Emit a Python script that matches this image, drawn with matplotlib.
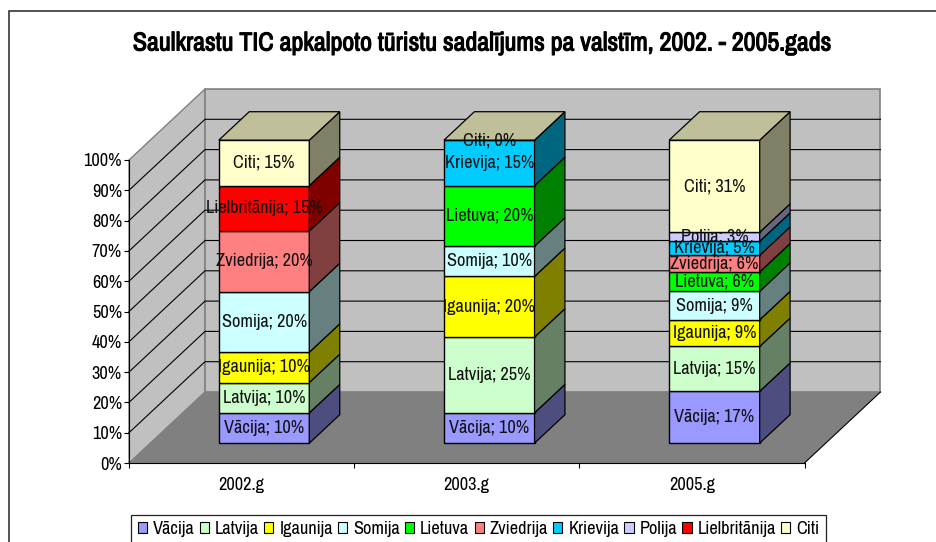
import matplotlib
matplotlib.use('Agg')
import matplotlib.font_manager as fm
import matplotlib.patheffects as pe
import matplotlib.pyplot as plt
from matplotlib.colors import to_rgb
from matplotlib.patches import Patch, Polygon, Rectangle

# a narrow face is closest to the reference, plain Liberation Sans if it is missing
try:
    fm.findfont('Archivo Narrow', fallback_to_default=False)
    plt.rcParams['font.family'] = ['Archivo Narrow', 'Liberation Sans', 'DejaVu Sans']
    fs = 13.2
    title_fs = 18.7
    title_stroke = 0.8  # the narrow face has no bold here
    col_space = 0.28
except ValueError:
    plt.rcParams['font.family'] = ['Liberation Sans', 'DejaVu Sans']
    fs = 10.8
    title_fs = 14.6
    title_stroke = 0
    col_space = 0.4

W, H = 936, 542

title = 'Saulkrastu TIC apkalpoto tūristu sadalījums pa valstīm, 2002. - 2005.gads'
years = ['2002.g', '2003.g', '2005.g']
countries = ['Vācija', 'Latvija', 'Igaunija', 'Somija', 'Lietuva', 'Zviedrija',
             'Krievija', 'Polija', 'Lielbritānija', 'Citi']
colors = ['#9999FF', '#CCFFCC', '#FFFF00', '#CCFFFF', '#00FF00', '#FF8080',
          '#00CCFF', '#CCCCFF', '#FF0000', '#FFFFCC']

# heights of the segments, in legend order (None = no label in the chart)
vals_2002 = [10, 10, 10, 20, 0, 20, 0, 0, 15, 15]
vals_2003 = [10, 25, 20, 10, 20, 0, 15, 0, 0, 0]
vals_2005 = [17.1, 14.8, 8.8, 9.4, 6.4, 5.5, 4.6, 3.0, 0, 30.4]
labels_2002 = [10, 10, 10, 20, None, 20, None, None, 15, 15]
labels_2003 = [10, 25, 20, 10, 20, None, 15, None, None, 0]
labels_2005 = [17, 15, 9, 9, 6, 6, 5, 3, None, 31]
all_vals = [vals_2002, vals_2003, vals_2005]
all_labels = [labels_2002, labels_2003, labels_2005]

# oblique 3d look: one unit of depth moves this far in data units
depth_x = 76 / 225.2
depth_y = 71 / 3.03
bar_d0 = 0.28
bar_d1 = 0.68
bar_w = 0.402
bar_shift = 0.1


def proj(x, y, d):
    return (x + d * depth_x, y + d * depth_y)


def shade(c, f):
    r, g, b = to_rgb(c)
    return (r * f, g * f, b * f)


fig = plt.figure(figsize=(W / 100, H / 100), dpi=100)
ax = fig.add_axes([129 / W, 1 - 463 / H, 675.5 / W, 303 / H])
ax.set_xlim(0, 3)
ax.set_ylim(0, 100)
ax.patch.set_visible(False)

# chart frame, runs off the right and bottom of the picture
fig.add_artist(Rectangle((9 / W, -0.1), 1.1, 1.1 - 11 / H, transform=fig.transFigure,
                         fill=False, ec='#222222', lw=1.1))

# walls and floor
wall = '#C0C0C0'
edge = '#808080'
ax.add_patch(Polygon([proj(0, 0, 0), proj(0, 0, 1), proj(0, 100, 1), proj(0, 100, 0)],
                     fc=wall, ec=edge, lw=1, clip_on=False, zorder=1))
ax.add_patch(Polygon([proj(0, 0, 1), proj(3, 0, 1), proj(3, 100, 1), proj(0, 100, 1)],
                     fc=wall, ec=edge, lw=1.2, clip_on=False, zorder=1))
ax.add_patch(Polygon([proj(0, 0, 0), proj(3, 0, 0), proj(3, 0, 1), proj(0, 0, 1)],
                     fc=edge, ec='none', clip_on=False, zorder=1))
ax.plot(*zip(proj(3, 0, 0), proj(3, 0, 1)), color='black', lw=0.8, clip_on=False, zorder=1.5)

for g in range(10, 100, 10):
    ax.plot(*zip(proj(0, g, 0), proj(0, g, 1), proj(3, g, 1)), color='black', lw=0.8,
            clip_on=False, zorder=1.5)

# bars
for i, vals in enumerate(all_vals):
    x0 = i + 0.5 + bar_shift - bar_w / 2
    x1 = x0 + bar_w
    dd = bar_d1 - bar_d0
    base = bar_d0 * depth_y
    for j, v in enumerate(vals):
        if v == 0 and j != len(vals) - 1:
            continue
        ax.bar(x0, v, width=bar_w, bottom=base, align='edge', color=colors[j], edgecolor='black',
               linewidth=1, clip_on=False, zorder=2)
        side = [(x1, base), proj(x1, base, dd), proj(x1, base + v, dd), (x1, base + v)]
        ax.add_patch(Polygon(side, fc=shade(colors[j], 0.5), ec='black', lw=0.9, clip_on=False, zorder=2))
        base += v
    top = [(x0, base), (x1, base), proj(x1, base, dd), proj(x0, base, dd)]
    ax.add_patch(Polygon(top, fc=shade(colors[-1], 0.75), ec='black', lw=0.9, clip_on=False, zorder=2))

# data labels on top of all bars
for i, vals in enumerate(all_vals):
    base = bar_d0 * depth_y
    xc = i + 0.5 + bar_shift
    for j, v in enumerate(vals):
        lab = all_labels[i][j]
        if lab is not None:
            ax.text(xc, base + v / 2, '%s; %d%%' % (countries[j], lab), ha='center', va='center',
                    fontsize=fs, color='#111111', clip_on=False, zorder=5)
        base += v

# axes
ax.spines['top'].set_visible(False)
ax.spines['right'].set_visible(False)
ax.spines['left'].set_zorder(1.6)
ax.spines['bottom'].set_zorder(1.6)
ax.set_yticks(range(0, 101, 10))
ax.set_yticklabels(['%d%%' % t for t in range(0, 101, 10)], fontsize=fs)
ax.tick_params(axis='y', length=3.6, width=0.8, pad=1.5)
ax.set_xticks([0, 1, 2, 3])
ax.set_xticklabels([])
ax.set_xticks([0.5, 1.5, 2.5], minor=True)
ax.set_xticklabels(years, minor=True, fontsize=fs)
ax.tick_params(axis='x', which='major', length=3.6, width=0.8)
ax.tick_params(axis='x', which='minor', length=0, pad=10)

tt = fig.text(480 / W, 1 - 43 / H, title, ha='center', va='center', fontsize=title_fs, fontweight='bold')
if title_stroke:
    tt.set_path_effects([pe.withStroke(linewidth=title_stroke, foreground='black')])

handles = [Patch(fc=c, ec='black', lw=0.8) for c in colors]
leg = fig.legend(handles, countries, loc='center', bbox_to_anchor=(478.5 / W, 1 - 529 / H),
                 ncols=10, fontsize=fs, frameon=True, fancybox=False, edgecolor='#222222',
                 framealpha=1, borderpad=0.35, borderaxespad=0, handlelength=0.5, handleheight=0.5,
                 handletextpad=0.33, columnspacing=col_space)
leg.get_frame().set_linewidth(0.9)

fig.savefig('out.png', dpi=100)
